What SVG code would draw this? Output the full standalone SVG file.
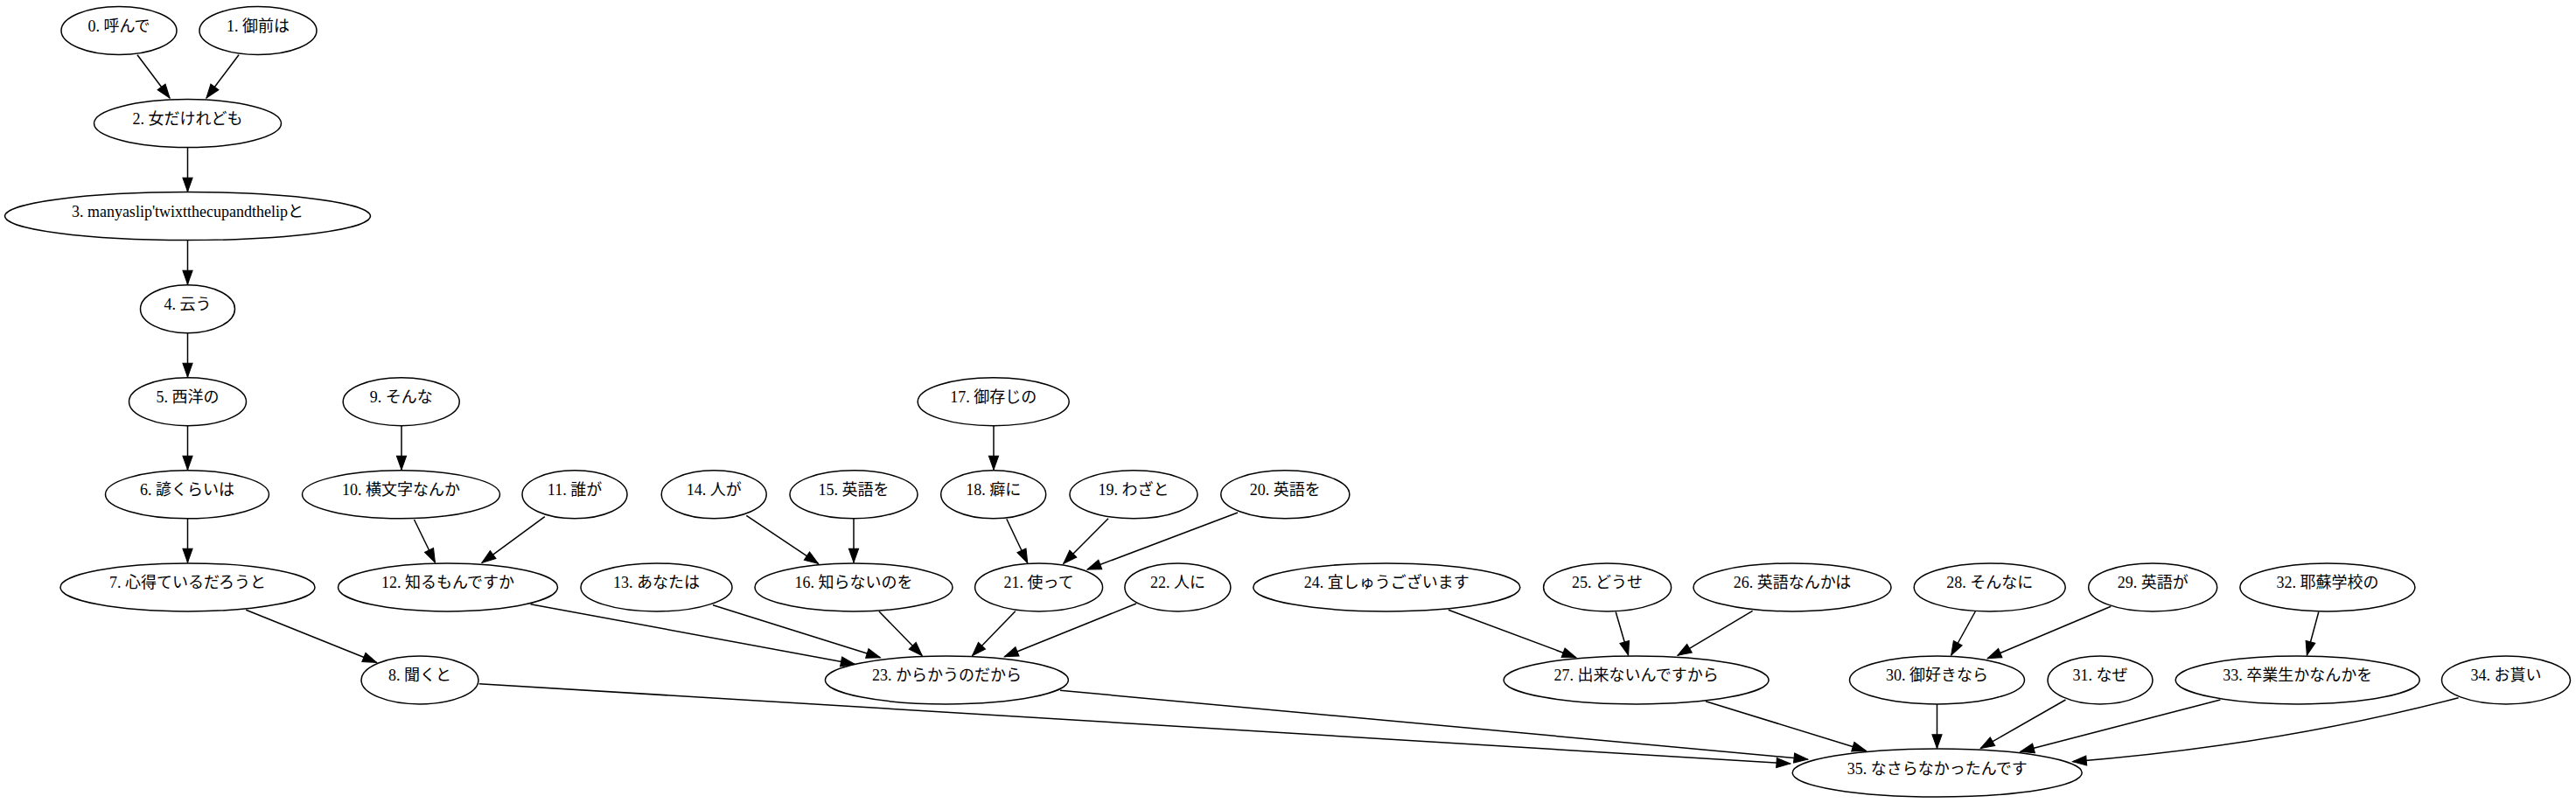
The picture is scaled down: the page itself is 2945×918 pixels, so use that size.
<svg xmlns="http://www.w3.org/2000/svg" width="2945" height="918" viewBox="0 0 2945 918">
<style>
.n ellipse{fill:none;stroke:#000;stroke-width:1.5}
.n text{font-family:"Liberation Serif","Noto Sans CJK JP",serif;font-size:18px;text-anchor:middle;fill:#000}
.e path{fill:none;stroke:#000;stroke-width:1.5}
</style>
<defs>
<marker id="ah" markerUnits="userSpaceOnUse" markerWidth="16" markerHeight="12" viewBox="0 0 15 10.4" refX="14.7" refY="5.2" orient="auto" overflow="visible">
<path d="M0,0 L14.7,5.2 L0,10.4 z" fill="#000" stroke="#000" stroke-width="1"/>
</marker>
</defs>
<rect width="2945" height="918" fill="#fff"/>
<g id="edges" class="e">
<path d="M157,62.7 L194,112" marker-end="url(#ah)"/>
<path d="M273,62.7 L236,112" marker-end="url(#ah)"/>
<path d="M214.5,168.5 L214.5,219" marker-end="url(#ah)"/>
<path d="M214.5,274.5 L214.5,325" marker-end="url(#ah)"/>
<path d="M214.5,380.5 L214.5,431" marker-end="url(#ah)"/>
<path d="M214.5,486.5 L214.5,537" marker-end="url(#ah)"/>
<path d="M214.5,592.5 L214.5,643" marker-end="url(#ah)"/>
<path d="M281.2,697.3 L430.5,757.3" marker-end="url(#ah)"/>
<path d="M547.7,781.7 L2046.7,873" marker-end="url(#ah)"/>
<path d="M459,486.5 L459,537" marker-end="url(#ah)"/>
<path d="M473.5,594 L497.4,643" marker-end="url(#ah)"/>
<path d="M622.8,590.7 L551,643.3" marker-end="url(#ah)"/>
<path d="M606.5,690.7 L977,759.3" marker-end="url(#ah)"/>
<path d="M815,691.7 L1006.3,751.7" marker-end="url(#ah)"/>
<path d="M853.3,589.3 L935.5,644.3" marker-end="url(#ah)"/>
<path d="M976,592.5 L976,643" marker-end="url(#ah)"/>
<path d="M1005,699 L1054.2,749.5" marker-end="url(#ah)"/>
<path d="M1136,486.5 L1136,537" marker-end="url(#ah)"/>
<path d="M1150.8,593.3 L1174.7,643.5" marker-end="url(#ah)"/>
<path d="M1267,592.7 L1215.8,644.3" marker-end="url(#ah)"/>
<path d="M1415,586 L1243.1,651" marker-end="url(#ah)"/>
<path d="M1160.8,698.7 L1111.6,749.5" marker-end="url(#ah)"/>
<path d="M1299,690 L1148.4,750.7" marker-end="url(#ah)"/>
<path d="M1212,789.3 L2066.7,868" marker-end="url(#ah)"/>
<path d="M1655.9,697.3 L1801.8,751.7" marker-end="url(#ah)"/>
<path d="M1847.2,699.5 L1861.6,749" marker-end="url(#ah)"/>
<path d="M2003.6,698.3 L1918,749.3" marker-end="url(#ah)"/>
<path d="M1950,801.7 L2133.3,858.3" marker-end="url(#ah)"/>
<path d="M2258.3,699 L2230.7,749" marker-end="url(#ah)"/>
<path d="M2413.3,693.3 L2272.3,752.7" marker-end="url(#ah)"/>
<path d="M2214.5,805 L2214.5,855.5" marker-end="url(#ah)"/>
<path d="M2361.5,800 L2264.4,855.5" marker-end="url(#ah)"/>
<path d="M2650.8,699.5 L2637.4,749" marker-end="url(#ah)"/>
<path d="M2538.4,800 L2309.8,859.3" marker-end="url(#ah)"/>
<path d="M2810.6,797.7 C2660.6,836.7 2519.6,858.7 2369.6,870.7" marker-end="url(#ah)"/>
</g>
<g id="node0" class="n"><ellipse cx="136" cy="35" rx="66" ry="27.5"/><text x="136" y="36">0. 呼んで</text></g>
<g id="node1" class="n"><ellipse cx="295" cy="35" rx="67" ry="27.5"/><text x="295" y="36">1. 御前は</text></g>
<g id="node2" class="n"><ellipse cx="214.5" cy="141.1" rx="107" ry="27.5"/><text x="214.5" y="142.1">2. 女だけれども</text></g>
<g id="node3" class="n"><ellipse cx="214.5" cy="247.1" rx="209" ry="27.5"/><text x="214.5" y="248.1">3. manyaslip'twixtthecupandthelipと</text></g>
<g id="node4" class="n"><ellipse cx="214.5" cy="353.2" rx="54" ry="27.5"/><text x="214.5" y="354.2">4. 云う</text></g>
<g id="node5" class="n"><ellipse cx="214.5" cy="459.2" rx="67" ry="27.5"/><text x="214.5" y="460.2">5. 西洋の</text></g>
<g id="node6" class="n"><ellipse cx="214" cy="565.3" rx="93.5" ry="27.5"/><text x="214" y="566.3">6. 諺くらいは</text></g>
<g id="node7" class="n"><ellipse cx="214.5" cy="671.4" rx="145.5" ry="27.5"/><text x="214.5" y="672.4">7. 心得ているだろうと</text></g>
<g id="node8" class="n"><ellipse cx="480" cy="777.4" rx="67" ry="27.5"/><text x="480" y="778.4">8. 聞くと</text></g>
<g id="node9" class="n"><ellipse cx="458.7" cy="459.2" rx="66.5" ry="27.5"/><text x="458.7" y="460.2">9. そんな</text></g>
<g id="node10" class="n"><ellipse cx="458.5" cy="565.3" rx="113" ry="27.5"/><text x="458.5" y="566.3">10. 横文字なんか</text></g>
<g id="node11" class="n"><ellipse cx="657" cy="565.3" rx="60" ry="27.5"/><text x="657" y="566.3">11. 誰が</text></g>
<g id="node12" class="n"><ellipse cx="512" cy="671.4" rx="125.5" ry="27.5"/><text x="512" y="672.4">12. 知るもんですか</text></g>
<g id="node13" class="n"><ellipse cx="750.5" cy="671.4" rx="86.5" ry="27.5"/><text x="750.5" y="672.4">13. あなたは</text></g>
<g id="node14" class="n"><ellipse cx="816.2" cy="565.3" rx="60" ry="27.5"/><text x="816.2" y="566.3">14. 人が</text></g>
<g id="node15" class="n"><ellipse cx="976" cy="565.3" rx="73" ry="27.5"/><text x="976" y="566.3">15. 英語を</text></g>
<g id="node16" class="n"><ellipse cx="976" cy="671.4" rx="113" ry="27.5"/><text x="976" y="672.4">16. 知らないのを</text></g>
<g id="node17" class="n"><ellipse cx="1135.7" cy="459.2" rx="86.5" ry="27.5"/><text x="1135.7" y="460.2">17. 御存じの</text></g>
<g id="node18" class="n"><ellipse cx="1135.7" cy="565.3" rx="60" ry="27.5"/><text x="1135.7" y="566.3">18. 癖に</text></g>
<g id="node19" class="n"><ellipse cx="1296" cy="565.3" rx="73" ry="27.5"/><text x="1296" y="566.3">19. わざと</text></g>
<g id="node20" class="n"><ellipse cx="1469.3" cy="565.3" rx="73.5" ry="27.5"/><text x="1469.3" y="566.3">20. 英語を</text></g>
<g id="node21" class="n"><ellipse cx="1187.6" cy="671.4" rx="73" ry="27.5"/><text x="1187.6" y="672.4">21. 使って</text></g>
<g id="node22" class="n"><ellipse cx="1346.4" cy="671.4" rx="60.5" ry="27.5"/><text x="1346.4" y="672.4">22. 人に</text></g>
<g id="node23" class="n"><ellipse cx="1082.4" cy="777.4" rx="139" ry="27.5"/><text x="1082.4" y="778.4">23. からかうのだから</text></g>
<g id="node24" class="n"><ellipse cx="1585.3" cy="671.4" rx="152.5" ry="27.5"/><text x="1585.3" y="672.4">24. 宜しゅうございます</text></g>
<g id="node25" class="n"><ellipse cx="1837.6" cy="671.4" rx="73" ry="27.5"/><text x="1837.6" y="672.4">25. どうせ</text></g>
<g id="node26" class="n"><ellipse cx="2049" cy="671.4" rx="113" ry="27.5"/><text x="2049" y="672.4">26. 英語なんかは</text></g>
<g id="node27" class="n"><ellipse cx="1870.6" cy="777.4" rx="151.5" ry="27.5"/><text x="1870.6" y="778.4">27. 出来ないんですから</text></g>
<g id="node28" class="n"><ellipse cx="2274.7" cy="671.4" rx="86.5" ry="27.5"/><text x="2274.7" y="672.4">28. そんなに</text></g>
<g id="node29" class="n"><ellipse cx="2461.2" cy="671.4" rx="73.5" ry="27.5"/><text x="2461.2" y="672.4">29. 英語が</text></g>
<g id="node30" class="n"><ellipse cx="2214.5" cy="777.4" rx="100" ry="27.5"/><text x="2214.5" y="778.4">30. 御好きなら</text></g>
<g id="node31" class="n"><ellipse cx="2401" cy="777.4" rx="60" ry="27.5"/><text x="2401" y="778.4">31. なぜ</text></g>
<g id="node32" class="n"><ellipse cx="2660.9" cy="671.4" rx="100" ry="27.5"/><text x="2660.9" y="672.4">32. 耶蘇学校の</text></g>
<g id="node33" class="n"><ellipse cx="2626.7" cy="777.4" rx="139.5" ry="27.5"/><text x="2626.7" y="778.4">33. 卒業生かなんかを</text></g>
<g id="node34" class="n"><ellipse cx="2865" cy="777.4" rx="73.5" ry="27.5"/><text x="2865" y="778.4">34. お貰い</text></g>
<g id="node35" class="n"><ellipse cx="2214.7" cy="883.5" rx="165.5" ry="27.5"/><text x="2214.7" y="884.5">35. なさらなかったんです</text></g>
</svg>
